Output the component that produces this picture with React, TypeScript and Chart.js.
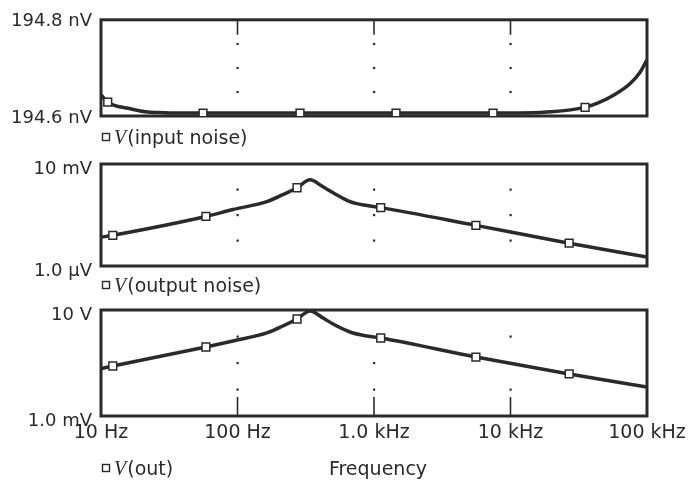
import React, { useEffect, useRef } from "react";
import { Chart, registerables } from "chart.js";

Chart.register(...registerables);

// ---------- shared x axis ----------
const xTickValues = [10, 100, 1000, 10000, 100000];
const xTickLabels = ["10 Hz", "100 Hz", "1.0 kHz", "10 kHz", "100 kHz"];
const gridDecades = [100, 1000, 10000];
const xTitle = "Frequency";

// ---------- panel 1: V(input noise), in nV ----------
const inFreq = [10, 11.2, 12.5, 15.8, 21, 29, 40, 55.9, 287, 1450, 7450, 20000, 35200, 43000, 56000, 75000, 89000, 100000];
const inNoise = [194.644, 194.629, 194.622, 194.616, 194.609, 194.607, 194.606, 194.606, 194.606, 194.606, 194.606, 194.609, 194.618, 194.626, 194.642, 194.667, 194.691, 194.717];
const inMarkers = [11.2, 55.9, 287, 1450, 7450, 35200];
const inTicks = [194.6, 194.8];
const inTickLabels = ["194.6 nV", "194.8 nV"];
const inGridY = [194.65, 194.7, 194.75];

// ---------- panels 2 & 3 share frequencies ----------
const freq = [10, 12.2, 58.7, 92.7, 164, 215, 273, 340, 423, 501, 667, 889, 1120, 5580, 26900, 100000];
const outNoise = [1.34e-5, 1.6e-5, 8.75e-5, 1.64e-4, 3.34e-4, 6.25e-4, 1.17e-3, 2.39e-3, 1.28e-3, 7.48e-4, 3.34e-4, 2.34e-4, 1.95e-4, 3.91e-5, 7.82e-6, 2.24e-6];
const vOut = [0.0619, 0.0771, 0.402, 0.676, 1.36, 2.49, 4.57, 9.2, 4.99, 2.96, 1.48, 1.04, 0.877, 0.168, 0.0385, 0.0124];
const outMarkers = [12.2, 58.7, 273, 1120, 5580, 26900];

const noiseTicks = [1e-6, 1e-2];
const noiseTickLabels = ["1.0 \u00b5V", "10 mV"];
const noiseGridY = [1e-5, 1e-4, 1e-3];

const outTicks = [1e-3, 10];
const outTickLabels = ["1.0 mV", "10 V"];
const outGridY = [1e-2, 1e-1, 1];

const INK = "#2a2a2a";
const FONT = "DejaVu Sans";

type PanelSpec = {
  freqs: number[];
  values: number[];
  markers: number[];
  yType: "linear" | "logarithmic";
  yTicks: number[];
  yTickLabels: string[];
  gridY: number[];
  legendName: string;
  top: number;
  bottom: number; // padding bottom
  showX: boolean;
  edgeTicks: "top" | "bottom" | "none";
  labelOffset: number;
  legendDy: number;
};

function makeDecor(spec: PanelSpec) {
  return {
    id: "panelDecor",
    beforeDatasetsDraw(chart: any) {
      const { ctx, chartArea: a, scales } = chart;
      const xs = scales.x;
      const ys = scales.y;
      ctx.save();
      ctx.fillStyle = INK;
      for (const fx of gridDecades) {
        const px = xs.getPixelForValue(fx);
        for (const gy of spec.gridY) {
          const py = ys.getPixelForValue(gy);
          ctx.fillRect(px - 1, py - 1, 2.2, 2.2);
        }
        ctx.strokeStyle = INK;
        ctx.lineWidth = 1.6;
        if (spec.edgeTicks === "top") {
          ctx.beginPath();
          ctx.moveTo(px, a.top);
          ctx.lineTo(px, a.top + 15);
          ctx.stroke();
        } else if (spec.edgeTicks === "bottom") {
          ctx.beginPath();
          ctx.moveTo(px, a.bottom);
          ctx.lineTo(px, a.bottom - 19);
          ctx.stroke();
        }
      }
      ctx.strokeStyle = INK;
      ctx.lineWidth = 3;
      ctx.strokeRect(a.left, a.top, a.right - a.left, a.bottom - a.top);
      ctx.restore();
    },
    afterDraw(chart: any) {
      const { ctx, chartArea: a } = chart;
      ctx.save();
      const sx = a.left + 5;
      const sy = a.bottom + spec.legendDy;
      ctx.strokeStyle = INK;
      ctx.lineWidth = 1.4;
      ctx.strokeRect(sx - 3.5, sy - 3.5, 7, 7);
      ctx.fillStyle = INK;
      ctx.textBaseline = "middle";
      ctx.textAlign = "left";
      ctx.font = `italic 20px "Liberation Serif"`;
      ctx.fillText("V", sx + 8, sy + 2);
      const w = ctx.measureText("V").width;
      ctx.font = `19px "${FONT}"`;
      ctx.fillText(spec.legendName, sx + 8 + w + 1, sy + 2);
      if (spec.showX) {
        ctx.textAlign = "center";
        ctx.fillText(xTitle, (a.left + a.right) / 2 + 4, sy + 2);
      }
      ctx.restore();
    },
  };
}

function Panel({ spec }: { spec: PanelSpec }) {
  const ref = useRef<HTMLCanvasElement>(null);
  useEffect(() => {
    const canvas = ref.current;
    if (!canvas) return;
    const chart = new Chart(canvas, {
      type: "line",
      data: {
        datasets: [
          {
            data: spec.freqs.map((f, i) => ({ x: f, y: spec.values[i] })),
            borderColor: INK,
            borderWidth: 3.5,
            pointStyle: "rect",
            pointRadius: (c: any) => (spec.markers.includes(spec.freqs[c.dataIndex]) ? 5.5 : 0),
            pointBackgroundColor: "#ffffff",
            pointBorderColor: INK,
            pointBorderWidth: 1.5,
            cubicInterpolationMode: "monotone",
            fill: false,
          } as any,
        ],
      },
      options: {
        animation: false,
        responsive: false,
        events: [],
        layout: { padding: { left: 0, right: 46, top: spec.top, bottom: spec.bottom } },
        plugins: { legend: { display: false }, tooltip: { enabled: false } },
        scales: {
          x: {
            type: "logarithmic",
            min: 10,
            max: 100000,
            display: spec.showX,
            afterBuildTicks: (s: any) => {
              s.ticks = xTickValues.map((v) => ({ value: v }));
            },
            afterFit: (s: any) => {
              if (spec.showX) s.height = 47;
            },
            ticks: {
              callback: (_v: any, i: number) => xTickLabels[i],
              font: { family: FONT, size: 19 },
              color: INK,
              padding: 6,
              maxRotation: 0,
              autoSkip: false,
            },
            grid: { display: false, drawTicks: false },
            border: { display: false },
          },
          y: {
            type: spec.yType,
            min: spec.yTicks[0],
            max: spec.yTicks[1],
            afterBuildTicks: (s: any) => {
              s.ticks = spec.yTicks.map((v) => ({ value: v }));
            },
            afterFit: (s: any) => {
              s.width = 101;
            },
            ticks: {
              callback: (_v: any, i: number) => spec.yTickLabels[i],
              font: { family: FONT, size: 18 },
              color: INK,
              padding: 9,
              labelOffset: spec.labelOffset,
              autoSkip: false,
            },
            grid: { display: false, drawTicks: false },
            border: { display: false },
          },
        },
      } as any,
      plugins: [makeDecor(spec)],
    });
    return () => chart.destroy();
  }, []);
  return (
    <canvas
      ref={ref}
      width={693}
      height={483}
      style={{ position: "absolute", left: 0, top: 0, width: 693, height: 483 }}
    />
  );
}

const panels: PanelSpec[] = [
  {
    freqs: inFreq,
    values: inNoise,
    markers: inMarkers,
    yType: "linear",
    yTicks: inTicks,
    yTickLabels: inTickLabels,
    gridY: inGridY,
    legendName: "(input noise)",
    top: 15,
    bottom: 483 - 116,
    showX: false,
    edgeTicks: "top",
    labelOffset: 2,
    legendDy: 21,
  },
  {
    freqs: freq,
    values: outNoise,
    markers: outMarkers,
    yType: "logarithmic",
    yTicks: noiseTicks,
    yTickLabels: noiseTickLabels,
    gridY: noiseGridY,
    legendName: "(output noise)",
    top: 164,
    bottom: 483 - 266,
    showX: false,
    edgeTicks: "none",
    labelOffset: 5,
    legendDy: 19,
  },
  {
    freqs: freq,
    values: vOut,
    markers: outMarkers,
    yType: "logarithmic",
    yTicks: outTicks,
    yTickLabels: outTickLabels,
    gridY: outGridY,
    legendName: "(out)",
    top: 310,
    bottom: 20,
    showX: true,
    edgeTicks: "bottom",
    labelOffset: 5,
    legendDy: 52,
  },
];

export default function App() {
  return (
    <div style={{ position: "absolute", left: 0, top: 0, width: 693, height: 483, background: "#fff" }}>
      {panels.map((p, i) => (
        <Panel key={i} spec={p} />
      ))}
    </div>
  );
}
